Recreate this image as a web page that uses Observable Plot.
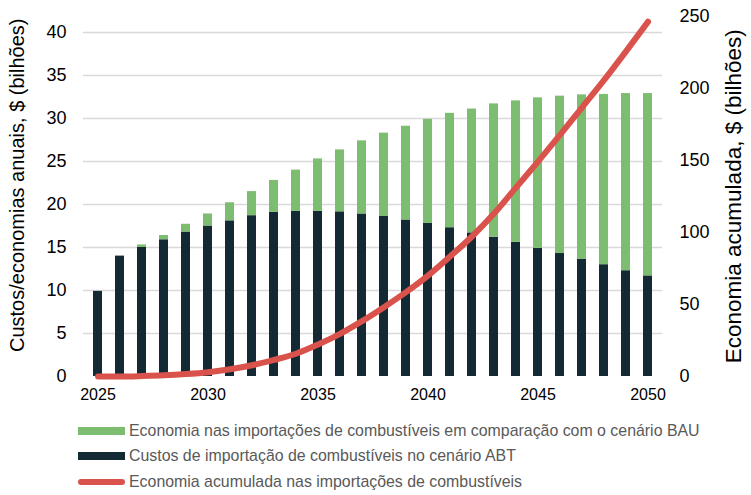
<!DOCTYPE html>
<html>
<head>
<meta charset="utf-8">
<script src="https://cdn.jsdelivr.net/npm/d3@7"></script>
<script src="https://cdn.jsdelivr.net/npm/@observablehq/plot@0.6"></script>
<style>
  body { margin: 0; background: #fff; font-family: "Liberation Sans", Arial, sans-serif; }
  #chart { width: 751px; }
  .legend { margin-left: 78px; margin-top: 8px; font-family: "Liberation Sans", Arial, sans-serif; font-size: 15.9px; color: #595959; }
  .legend .row { display: flex; align-items: center; height: 25.5px; }
  .legend .sw { width: 47px; height: 8px; margin-right: 4px; }
  .legend .ln { width: 47px; height: 6px; border-radius: 3px; margin-right: 4px; }
</style>
</head>
<body>
<div id="chart"></div>
<script>
const years = [2025, 2026, 2027, 2028, 2029, 2030, 2031, 2032, 2033, 2034, 2035, 2036, 2037, 2038, 2039, 2040, 2041, 2042, 2043, 2044, 2045, 2046, 2047, 2048, 2049, 2050];
// Custos de importação de combustíveis no cenário ABT ($ bilhões)
const abtCost = [9.9, 14.0, 15.0, 15.9, 16.8, 17.5, 18.1, 18.7, 19.1, 19.2, 19.2, 19.15, 18.9, 18.65, 18.2, 17.8, 17.3, 16.7, 16.2, 15.6, 14.9, 14.3, 13.65, 13.0, 12.3, 11.7];
// Economia nas importações vs BAU ($ bilhões)
const savings = [0, 0, 0.3, 0.5, 0.9, 1.4, 2.1, 2.8, 3.7, 4.8, 6.1, 7.2, 8.5, 9.65, 10.9, 12.1, 13.3, 14.4, 15.5, 16.45, 17.5, 18.3, 19.1, 19.8, 20.6, 21.2];
// Economia acumulada ($ bilhões, eixo direito)
const cumulative = [0, 0, 0.3, 0.8, 1.7, 3.0, 5.0, 7.8, 11.5, 15.8, 22.2, 29.6, 38.4, 48.1, 58.5, 70.0, 83.2, 97.1, 113, 131, 149, 167.5, 186.5, 205.5, 225.5, 246];
const leftTicks = [0, 5, 10, 15, 20, 25, 30, 35, 40];
const rightTicks = [0, 50, 100, 150, 200, 250];
const xTicks = [2025, 2030, 2035, 2040, 2045, 2050];

const seriesNames = [
  "Economia nas importações de combustíveis em comparação com o cenário BAU",
  "Custos de importação de combustíveis no cenário ABT",
  "Economia acumulada nas importações de combustíveis"
];
const colors = ["#7dbd6f", "#132a35", "#d9534c"];

const leftMax = 41.92;
const rightMax = 250;
const k = leftMax / rightMax;

const bars = [];
years.forEach((y, i) => {
  bars.push({year: y, value: abtCost[i], series: seriesNames[1], order: 0});
  bars.push({year: y, value: savings[i], series: seriesNames[0], order: 1});
});
const line = years.map((y, i) => ({year: y, value: cumulative[i] * k}));

const plot = Plot.plot({
  width: 751,
  height: 410,
  marginLeft: 83,
  marginRight: 89,
  marginTop: 15.5,
  marginBottom: 34,
  style: {fontFamily: "'Liberation Sans', Arial, sans-serif", background: "#fff"},
  x: {type: "band", domain: years, paddingInner: 0.58, paddingOuter: 0.29, label: null},
  y: {domain: [0, leftMax], label: null},
  marks: [
    Plot.gridY(leftTicks.slice(1), {stroke: "#d9d9d9", strokeOpacity: 1, strokeWidth: 1.3}),
    Plot.barY(bars, Plot.stackY({x: "year", y: "value", fill: "series", order: "order"})),
    Plot.line(line, {x: "year", y: "value", stroke: colors[2], strokeWidth: 6, curve: "monotone-x", strokeLinecap: "round"}),
    Plot.axisX({ticks: xTicks, tickFormat: d => String(d), tickSize: 0, tickPadding: 12, fontSize: 16, fill: "#000", label: null}),
    Plot.axisY({ticks: leftTicks, anchor: "left", tickSize: 0, tickPadding: 17, fontSize: 18, fill: "#000"}),
    Plot.axisY({ticks: rightTicks.map(v => v * k), tickFormat: d => String(Math.round(d / k)), anchor: "right", tickSize: 0, tickPadding: 17, fontSize: 18, fill: "#000"}),
    Plot.text(["Custos/economias anuais, $ (bilhões)"], {frameAnchor: "left", textAnchor: "middle", dx: -66, dy: -11, rotate: -90, fontSize: 20, fill: "#000", text: d => d}),
    Plot.text(["Economia acumulada, $ (bilhões)"], {frameAnchor: "right", textAnchor: "middle", dx: 71, rotate: -90, fontSize: 22.5, fill: "#000", text: d => d})
  ],
  color: {domain: seriesNames.slice(0, 2), range: colors.slice(0, 2)}
});
document.getElementById("chart").appendChild(plot);

const legend = d3.select("#chart").append("div").attr("class", "legend");
seriesNames.forEach((name, i) => {
  const row = legend.append("div").attr("class", "row");
  row.append("div").attr("class", i === 2 ? "ln" : "sw").style("background", colors[i]);
  row.append("span").text(name);
});
</script>
</body>
</html>
